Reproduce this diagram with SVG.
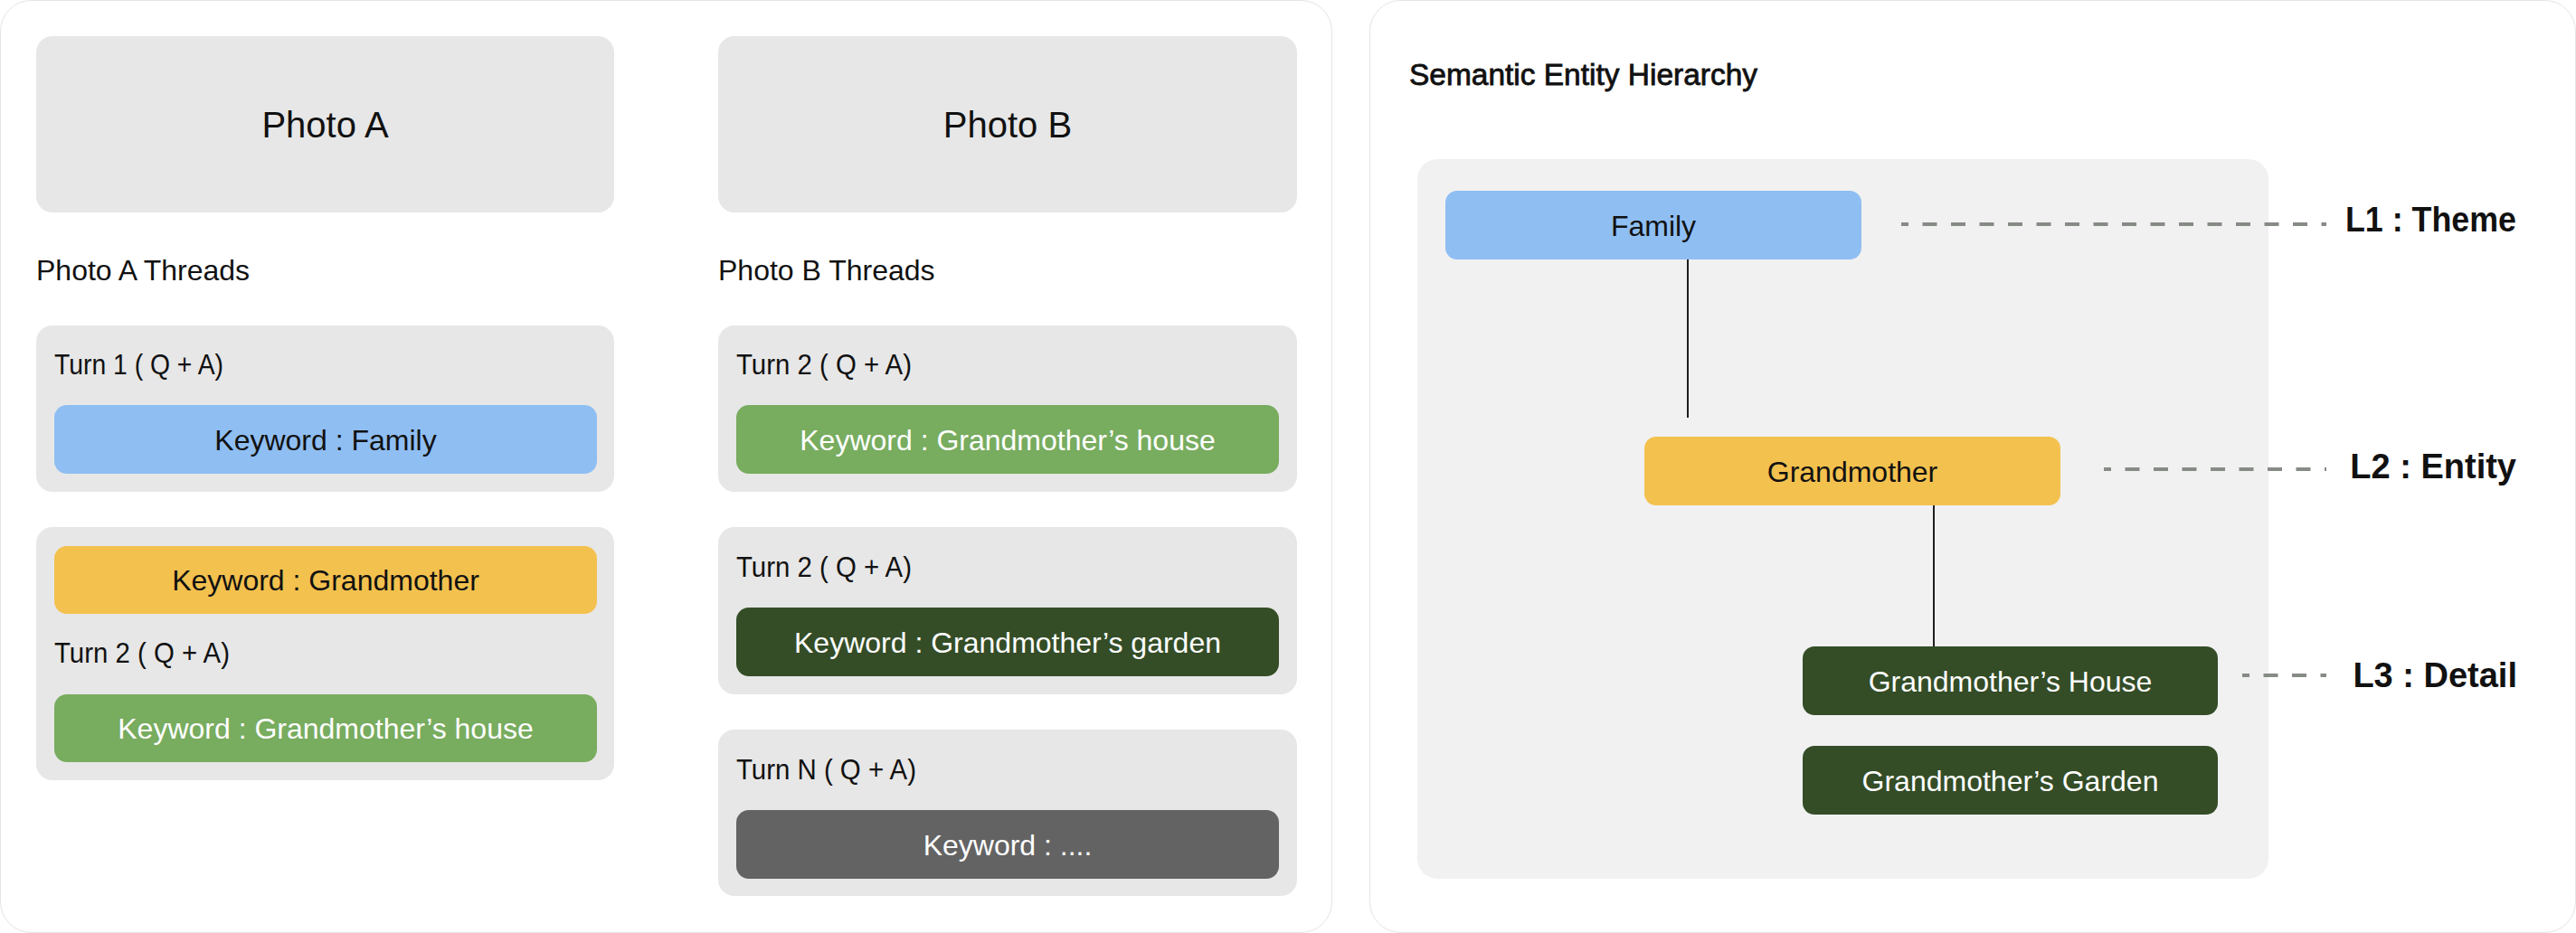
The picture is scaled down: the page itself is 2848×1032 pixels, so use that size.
<svg xmlns="http://www.w3.org/2000/svg" width="2848" height="1032" viewBox="0 0 2848 1032">
  <style>
    text { font-family: "Liberation Sans", Arial, sans-serif; fill: #111; }
    .panel { fill: #ffffff; stroke: #e4e4e4; stroke-width: 1; }
    .card { fill: #e7e7e7; }
    .inner { fill: #f1f1f1; }
    .photo { font-size: 40px; text-anchor: middle; }
    .lbl { font-size: 32px; }
    .kw { font-size: 32px; text-anchor: middle; }
    .w { fill: #ffffff; }
    .blue { fill: #8fbef2; }
    .yellow { fill: #f3c14e; }
    .green { fill: #78ac5f; }
    .dgreen { fill: #344d27; }
    .dgray { fill: #636363; }
    .title { font-size: 33px; stroke: #111; stroke-width: 0.8; }
    .level { font-size: 38px; font-weight: bold; text-anchor: end; }
    .tree { stroke: #1e1e1e; stroke-width: 2; fill: none; }
    .dash { stroke: #868b86; stroke-width: 4; stroke-dasharray: 16 15.5; fill: none; }
  </style>

  <rect class="panel" x="0.5" y="0.5" width="1472" height="1031" rx="34"/>
  <rect class="panel" x="1514.5" y="0.5" width="1333" height="1031" rx="34"/>

  <!-- Photo A column -->
  <g id="photo-a">
    <rect class="card" x="40" y="40" width="639" height="195" rx="18"/>
    <text class="photo" x="359.5" y="152">Photo A</text>
  </g>
  <text id="photo-a-threads-label" class="lbl" x="40" y="310">Photo A Threads</text>
  <g id="a-turn1">
    <rect class="card" x="40" y="360" width="639" height="184" rx="18"/>
    <text class="lbl" x="60" y="414" textLength="187" lengthAdjust="spacingAndGlyphs">Turn 1 ( Q + A)</text>
    <rect class="blue" x="60" y="448" width="600" height="76" rx="14"/>
    <text class="kw" x="360" y="497.5">Keyword : Family</text>
  </g>
  <g id="a-turn2">
    <rect class="card" x="40" y="583" width="639" height="280" rx="18"/>
    <rect class="yellow" x="60" y="604" width="600" height="75" rx="14"/>
    <text class="kw" x="360" y="653">Keyword : Grandmother</text>
    <text class="lbl" x="60" y="733" textLength="194" lengthAdjust="spacingAndGlyphs">Turn 2 ( Q + A)</text>
    <rect class="green" x="60" y="768" width="600" height="75" rx="14"/>
    <text class="kw w" x="360" y="817">Keyword : Grandmother’s house</text>
  </g>

  <!-- Photo B column -->
  <g id="photo-b">
    <rect class="card" x="794" y="40" width="640" height="195" rx="18"/>
    <text class="photo" x="1114" y="152">Photo B</text>
  </g>
  <text id="photo-b-threads-label" class="lbl" x="794" y="310">Photo B Threads</text>
  <g id="b-turn2a">
    <rect class="card" x="794" y="360" width="640" height="184" rx="18"/>
    <text class="lbl" x="814" y="414" textLength="194" lengthAdjust="spacingAndGlyphs">Turn 2 ( Q + A)</text>
    <rect class="green" x="814" y="448" width="600" height="76" rx="14"/>
    <text class="kw w" x="1114" y="497.5">Keyword : Grandmother’s house</text>
  </g>
  <g id="b-turn2b">
    <rect class="card" x="794" y="583" width="640" height="185" rx="18"/>
    <text class="lbl" x="814" y="638" textLength="194" lengthAdjust="spacingAndGlyphs">Turn 2 ( Q + A)</text>
    <rect class="dgreen" x="814" y="672" width="600" height="76" rx="14"/>
    <text class="kw w" x="1114" y="721.5">Keyword : Grandmother’s garden</text>
  </g>
  <g id="b-turnN">
    <rect class="card" x="794" y="807" width="640" height="184" rx="18"/>
    <text class="lbl" x="814" y="862" textLength="199" lengthAdjust="spacingAndGlyphs">Turn N ( Q + A)</text>
    <rect class="dgray" x="814" y="896" width="600" height="76" rx="14"/>
    <text class="kw w" x="1114" y="945.5">Keyword : ....</text>
  </g>

  <!-- Semantic Entity Hierarchy -->
  <text id="hierarchy-title" class="title" x="1558" y="93.5" textLength="385" lengthAdjust="spacingAndGlyphs">Semantic Entity Hierarchy</text>
  <rect id="hierarchy-panel" class="inner" x="1567" y="176" width="941" height="796" rx="22"/>

  <g id="connectors">
    <line class="tree" x1="1866" y1="287" x2="1866" y2="462"/>
    <line class="tree" x1="2138" y1="559" x2="2138" y2="715"/>
    <line class="dash" x1="2102" y1="248" x2="2572" y2="248" stroke-dashoffset="8"/>
    <line class="dash" x1="2326" y1="519" x2="2572" y2="519" stroke-dashoffset="8"/>
    <line class="dash" x1="2479" y1="747" x2="2572" y2="747" stroke-dashoffset="8"/>
  </g>

  <g id="node-family">
    <rect class="blue" x="1598" y="211" width="460" height="76" rx="13"/>
    <text class="kw" x="1828" y="260.5">Family</text>
  </g>
  <g id="node-grandmother">
    <rect class="yellow" x="1818" y="483" width="460" height="76" rx="13"/>
    <text class="kw" x="2048" y="532.5">Grandmother</text>
  </g>
  <g id="node-grandmothers-house">
    <rect class="dgreen" x="1993" y="715" width="459" height="76" rx="13"/>
    <text class="kw w" x="2222.5" y="764.5">Grandmother’s House</text>
  </g>
  <g id="node-grandmothers-garden">
    <rect class="dgreen" x="1993" y="825" width="459" height="76" rx="13"/>
    <text class="kw w" x="2222.5" y="874.5">Grandmother’s Garden</text>
  </g>

  <g id="level-labels">
    <text class="level" x="2782" y="256" textLength="189" lengthAdjust="spacingAndGlyphs">L1 : Theme</text>
    <text class="level" x="2782" y="528.5">L2 : Entity</text>
    <text class="level" x="2783" y="760">L3 : Detail</text>
  </g>
</svg>
